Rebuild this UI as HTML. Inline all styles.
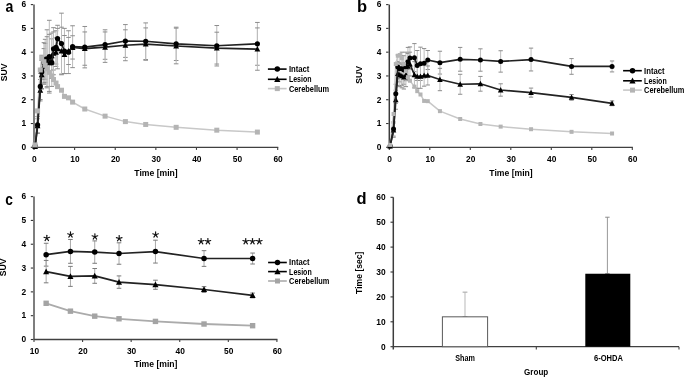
<!DOCTYPE html><html><head><meta charset="utf-8"><style>html,body{margin:0;padding:0;background:#fff;width:685px;height:377px;overflow:hidden}svg{display:block;will-change:transform}text{font-family:"Liberation Sans",sans-serif}</style></head><body>
<svg width="685" height="377" viewBox="0 0 685 377">
<rect width="685" height="377" fill="#fff"/>
<g>
<text x="9.30" y="12.00" font-size="16" text-anchor="middle" font-weight="bold" fill="#000" transform="translate(9.3 0) scale(0.88 1) translate(-9.3 0)">a</text>
<line x1="34.00" y1="4.60" x2="34.00" y2="147.30" stroke="#707070" stroke-width="1.8"/>
<line x1="30.80" y1="147.30" x2="33.10" y2="147.30" stroke="#333" stroke-width="1.1"/>
<text x="26.20" y="150.10" font-size="8.4" text-anchor="end" font-weight="bold" fill="#000" >0</text>
<line x1="30.80" y1="123.52" x2="33.10" y2="123.52" stroke="#333" stroke-width="1.1"/>
<text x="26.20" y="126.32" font-size="8.4" text-anchor="end" font-weight="bold" fill="#000" >1</text>
<line x1="30.80" y1="99.73" x2="33.10" y2="99.73" stroke="#333" stroke-width="1.1"/>
<text x="26.20" y="102.53" font-size="8.4" text-anchor="end" font-weight="bold" fill="#000" >2</text>
<line x1="30.80" y1="75.95" x2="33.10" y2="75.95" stroke="#333" stroke-width="1.1"/>
<text x="26.20" y="78.75" font-size="8.4" text-anchor="end" font-weight="bold" fill="#000" >3</text>
<line x1="30.80" y1="52.17" x2="33.10" y2="52.17" stroke="#333" stroke-width="1.1"/>
<text x="26.20" y="54.97" font-size="8.4" text-anchor="end" font-weight="bold" fill="#000" >4</text>
<line x1="30.80" y1="28.38" x2="33.10" y2="28.38" stroke="#333" stroke-width="1.1"/>
<text x="26.20" y="31.18" font-size="8.4" text-anchor="end" font-weight="bold" fill="#000" >5</text>
<line x1="30.80" y1="4.60" x2="33.10" y2="4.60" stroke="#333" stroke-width="1.1"/>
<text x="26.20" y="7.40" font-size="8.4" text-anchor="end" font-weight="bold" fill="#000" >6</text>
<line x1="33.40" y1="147.30" x2="278.25" y2="147.30" stroke="#404040" stroke-width="1.3"/>
<line x1="34.00" y1="147.30" x2="34.00" y2="149.90" stroke="#404040" stroke-width="1.1"/>
<text x="34.40" y="161.80" font-size="8.4" text-anchor="middle" font-weight="bold" fill="#000" >0</text>
<line x1="74.62" y1="147.30" x2="74.62" y2="149.90" stroke="#404040" stroke-width="1.1"/>
<text x="75.02" y="161.80" font-size="8.4" text-anchor="middle" font-weight="bold" fill="#000" >10</text>
<line x1="115.23" y1="147.30" x2="115.23" y2="149.90" stroke="#404040" stroke-width="1.1"/>
<text x="115.63" y="161.80" font-size="8.4" text-anchor="middle" font-weight="bold" fill="#000" >20</text>
<line x1="155.85" y1="147.30" x2="155.85" y2="149.90" stroke="#404040" stroke-width="1.1"/>
<text x="156.25" y="161.80" font-size="8.4" text-anchor="middle" font-weight="bold" fill="#000" >30</text>
<line x1="196.47" y1="147.30" x2="196.47" y2="149.90" stroke="#404040" stroke-width="1.1"/>
<text x="196.87" y="161.80" font-size="8.4" text-anchor="middle" font-weight="bold" fill="#000" >40</text>
<line x1="237.08" y1="147.30" x2="237.08" y2="149.90" stroke="#404040" stroke-width="1.1"/>
<text x="237.48" y="161.80" font-size="8.4" text-anchor="middle" font-weight="bold" fill="#000" >50</text>
<line x1="277.70" y1="147.30" x2="277.70" y2="149.90" stroke="#404040" stroke-width="1.1"/>
<text x="278.10" y="161.80" font-size="8.4" text-anchor="middle" font-weight="bold" fill="#000" >60</text>
<line x1="35.14" y1="144.92" x2="35.14" y2="147.30" stroke="#bcbcbc" stroke-width="1"/>
<line x1="32.84" y1="144.92" x2="37.44" y2="144.92" stroke="#8c8c8c" stroke-width="1"/>
<line x1="32.84" y1="147.30" x2="37.44" y2="147.30" stroke="#8c8c8c" stroke-width="1"/>
<line x1="35.14" y1="145.40" x2="35.14" y2="147.78" stroke="#bcbcbc" stroke-width="1"/>
<line x1="32.84" y1="145.40" x2="37.44" y2="145.40" stroke="#8c8c8c" stroke-width="1"/>
<line x1="32.84" y1="147.78" x2="37.44" y2="147.78" stroke="#8c8c8c" stroke-width="1"/>
<line x1="37.57" y1="116.62" x2="37.57" y2="133.27" stroke="#bcbcbc" stroke-width="1"/>
<line x1="35.27" y1="116.62" x2="39.87" y2="116.62" stroke="#8c8c8c" stroke-width="1"/>
<line x1="35.27" y1="133.27" x2="39.87" y2="133.27" stroke="#8c8c8c" stroke-width="1"/>
<line x1="37.57" y1="118.76" x2="37.57" y2="133.03" stroke="#bcbcbc" stroke-width="1"/>
<line x1="35.27" y1="118.76" x2="39.87" y2="118.76" stroke="#8c8c8c" stroke-width="1"/>
<line x1="35.27" y1="133.03" x2="39.87" y2="133.03" stroke="#8c8c8c" stroke-width="1"/>
<line x1="40.30" y1="73.33" x2="40.30" y2="99.50" stroke="#bcbcbc" stroke-width="1"/>
<line x1="38.00" y1="73.33" x2="42.60" y2="73.33" stroke="#8c8c8c" stroke-width="1"/>
<line x1="38.00" y1="99.50" x2="42.60" y2="99.50" stroke="#8c8c8c" stroke-width="1"/>
<line x1="40.30" y1="79.52" x2="40.30" y2="100.92" stroke="#bcbcbc" stroke-width="1"/>
<line x1="38.00" y1="79.52" x2="42.60" y2="79.52" stroke="#8c8c8c" stroke-width="1"/>
<line x1="38.00" y1="100.92" x2="42.60" y2="100.92" stroke="#8c8c8c" stroke-width="1"/>
<line x1="41.72" y1="55.26" x2="41.72" y2="88.56" stroke="#bcbcbc" stroke-width="1"/>
<line x1="39.42" y1="55.26" x2="44.02" y2="55.26" stroke="#8c8c8c" stroke-width="1"/>
<line x1="39.42" y1="88.56" x2="44.02" y2="88.56" stroke="#8c8c8c" stroke-width="1"/>
<line x1="41.72" y1="60.49" x2="41.72" y2="89.03" stroke="#bcbcbc" stroke-width="1"/>
<line x1="39.42" y1="60.49" x2="44.02" y2="60.49" stroke="#8c8c8c" stroke-width="1"/>
<line x1="39.42" y1="89.03" x2="44.02" y2="89.03" stroke="#8c8c8c" stroke-width="1"/>
<line x1="43.95" y1="42.65" x2="43.95" y2="83.09" stroke="#bcbcbc" stroke-width="1"/>
<line x1="41.65" y1="42.65" x2="46.25" y2="42.65" stroke="#8c8c8c" stroke-width="1"/>
<line x1="41.65" y1="83.09" x2="46.25" y2="83.09" stroke="#8c8c8c" stroke-width="1"/>
<line x1="43.95" y1="48.60" x2="43.95" y2="84.27" stroke="#bcbcbc" stroke-width="1"/>
<line x1="41.65" y1="48.60" x2="46.25" y2="48.60" stroke="#8c8c8c" stroke-width="1"/>
<line x1="41.65" y1="84.27" x2="46.25" y2="84.27" stroke="#8c8c8c" stroke-width="1"/>
<line x1="45.17" y1="39.32" x2="45.17" y2="79.28" stroke="#bcbcbc" stroke-width="1"/>
<line x1="42.87" y1="39.32" x2="47.47" y2="39.32" stroke="#8c8c8c" stroke-width="1"/>
<line x1="42.87" y1="79.28" x2="47.47" y2="79.28" stroke="#8c8c8c" stroke-width="1"/>
<line x1="45.17" y1="43.37" x2="45.17" y2="82.37" stroke="#bcbcbc" stroke-width="1"/>
<line x1="42.87" y1="43.37" x2="47.47" y2="43.37" stroke="#8c8c8c" stroke-width="1"/>
<line x1="42.87" y1="82.37" x2="47.47" y2="82.37" stroke="#8c8c8c" stroke-width="1"/>
<line x1="47.00" y1="29.81" x2="47.00" y2="87.84" stroke="#bcbcbc" stroke-width="1"/>
<line x1="44.70" y1="29.81" x2="49.30" y2="29.81" stroke="#8c8c8c" stroke-width="1"/>
<line x1="44.70" y1="87.84" x2="49.30" y2="87.84" stroke="#8c8c8c" stroke-width="1"/>
<line x1="47.00" y1="36.71" x2="47.00" y2="86.65" stroke="#bcbcbc" stroke-width="1"/>
<line x1="44.70" y1="36.71" x2="49.30" y2="36.71" stroke="#8c8c8c" stroke-width="1"/>
<line x1="44.70" y1="86.65" x2="49.30" y2="86.65" stroke="#8c8c8c" stroke-width="1"/>
<line x1="49.31" y1="20.30" x2="49.31" y2="93.07" stroke="#bcbcbc" stroke-width="1"/>
<line x1="47.01" y1="20.30" x2="51.61" y2="20.30" stroke="#8c8c8c" stroke-width="1"/>
<line x1="47.01" y1="93.07" x2="51.61" y2="93.07" stroke="#8c8c8c" stroke-width="1"/>
<line x1="49.31" y1="34.33" x2="49.31" y2="91.41" stroke="#bcbcbc" stroke-width="1"/>
<line x1="47.01" y1="34.33" x2="51.61" y2="34.33" stroke="#8c8c8c" stroke-width="1"/>
<line x1="47.01" y1="91.41" x2="51.61" y2="91.41" stroke="#8c8c8c" stroke-width="1"/>
<line x1="51.79" y1="38.85" x2="51.79" y2="86.41" stroke="#bcbcbc" stroke-width="1"/>
<line x1="49.49" y1="38.85" x2="54.09" y2="38.85" stroke="#8c8c8c" stroke-width="1"/>
<line x1="49.49" y1="86.41" x2="54.09" y2="86.41" stroke="#8c8c8c" stroke-width="1"/>
<line x1="51.79" y1="33.14" x2="51.79" y2="78.33" stroke="#bcbcbc" stroke-width="1"/>
<line x1="49.49" y1="33.14" x2="54.09" y2="33.14" stroke="#8c8c8c" stroke-width="1"/>
<line x1="49.49" y1="78.33" x2="54.09" y2="78.33" stroke="#8c8c8c" stroke-width="1"/>
<line x1="53.50" y1="27.67" x2="53.50" y2="70.00" stroke="#bcbcbc" stroke-width="1"/>
<line x1="51.20" y1="27.67" x2="55.80" y2="27.67" stroke="#8c8c8c" stroke-width="1"/>
<line x1="51.20" y1="70.00" x2="55.80" y2="70.00" stroke="#8c8c8c" stroke-width="1"/>
<line x1="53.50" y1="31.95" x2="53.50" y2="74.76" stroke="#bcbcbc" stroke-width="1"/>
<line x1="51.20" y1="31.95" x2="55.80" y2="31.95" stroke="#8c8c8c" stroke-width="1"/>
<line x1="51.20" y1="74.76" x2="55.80" y2="74.76" stroke="#8c8c8c" stroke-width="1"/>
<line x1="56.01" y1="30.76" x2="56.01" y2="64.06" stroke="#bcbcbc" stroke-width="1"/>
<line x1="53.71" y1="30.76" x2="58.31" y2="30.76" stroke="#8c8c8c" stroke-width="1"/>
<line x1="53.71" y1="64.06" x2="58.31" y2="64.06" stroke="#8c8c8c" stroke-width="1"/>
<line x1="56.01" y1="37.90" x2="56.01" y2="66.44" stroke="#bcbcbc" stroke-width="1"/>
<line x1="53.71" y1="37.90" x2="58.31" y2="37.90" stroke="#8c8c8c" stroke-width="1"/>
<line x1="53.71" y1="66.44" x2="58.31" y2="66.44" stroke="#8c8c8c" stroke-width="1"/>
<line x1="57.56" y1="25.29" x2="57.56" y2="51.93" stroke="#bcbcbc" stroke-width="1"/>
<line x1="55.26" y1="25.29" x2="59.86" y2="25.29" stroke="#8c8c8c" stroke-width="1"/>
<line x1="55.26" y1="51.93" x2="59.86" y2="51.93" stroke="#8c8c8c" stroke-width="1"/>
<line x1="57.56" y1="28.38" x2="57.56" y2="68.81" stroke="#bcbcbc" stroke-width="1"/>
<line x1="55.26" y1="28.38" x2="59.86" y2="28.38" stroke="#8c8c8c" stroke-width="1"/>
<line x1="55.26" y1="68.81" x2="59.86" y2="68.81" stroke="#8c8c8c" stroke-width="1"/>
<line x1="61.50" y1="13.16" x2="61.50" y2="74.05" stroke="#bcbcbc" stroke-width="1"/>
<line x1="59.20" y1="13.16" x2="63.80" y2="13.16" stroke="#8c8c8c" stroke-width="1"/>
<line x1="59.20" y1="74.05" x2="63.80" y2="74.05" stroke="#8c8c8c" stroke-width="1"/>
<line x1="61.50" y1="27.19" x2="61.50" y2="74.76" stroke="#bcbcbc" stroke-width="1"/>
<line x1="59.20" y1="27.19" x2="63.80" y2="27.19" stroke="#8c8c8c" stroke-width="1"/>
<line x1="59.20" y1="74.76" x2="63.80" y2="74.76" stroke="#8c8c8c" stroke-width="1"/>
<line x1="64.46" y1="28.38" x2="64.46" y2="73.57" stroke="#bcbcbc" stroke-width="1"/>
<line x1="62.16" y1="28.38" x2="66.76" y2="28.38" stroke="#8c8c8c" stroke-width="1"/>
<line x1="62.16" y1="73.57" x2="66.76" y2="73.57" stroke="#8c8c8c" stroke-width="1"/>
<line x1="64.46" y1="35.52" x2="64.46" y2="73.57" stroke="#bcbcbc" stroke-width="1"/>
<line x1="62.16" y1="35.52" x2="66.76" y2="35.52" stroke="#8c8c8c" stroke-width="1"/>
<line x1="62.16" y1="73.57" x2="66.76" y2="73.57" stroke="#8c8c8c" stroke-width="1"/>
<line x1="68.52" y1="30.76" x2="68.52" y2="73.57" stroke="#bcbcbc" stroke-width="1"/>
<line x1="66.22" y1="30.76" x2="70.82" y2="30.76" stroke="#8c8c8c" stroke-width="1"/>
<line x1="66.22" y1="73.57" x2="70.82" y2="73.57" stroke="#8c8c8c" stroke-width="1"/>
<line x1="68.52" y1="37.42" x2="68.52" y2="64.53" stroke="#bcbcbc" stroke-width="1"/>
<line x1="66.22" y1="37.42" x2="70.82" y2="37.42" stroke="#8c8c8c" stroke-width="1"/>
<line x1="66.22" y1="64.53" x2="70.82" y2="64.53" stroke="#8c8c8c" stroke-width="1"/>
<line x1="72.59" y1="25.77" x2="72.59" y2="67.63" stroke="#bcbcbc" stroke-width="1"/>
<line x1="70.29" y1="25.77" x2="74.89" y2="25.77" stroke="#8c8c8c" stroke-width="1"/>
<line x1="70.29" y1="67.63" x2="74.89" y2="67.63" stroke="#8c8c8c" stroke-width="1"/>
<line x1="72.59" y1="35.76" x2="72.59" y2="59.06" stroke="#bcbcbc" stroke-width="1"/>
<line x1="70.29" y1="35.76" x2="74.89" y2="35.76" stroke="#8c8c8c" stroke-width="1"/>
<line x1="70.29" y1="59.06" x2="74.89" y2="59.06" stroke="#8c8c8c" stroke-width="1"/>
<line x1="84.77" y1="26.48" x2="84.77" y2="67.86" stroke="#bcbcbc" stroke-width="1"/>
<line x1="82.47" y1="26.48" x2="87.07" y2="26.48" stroke="#8c8c8c" stroke-width="1"/>
<line x1="82.47" y1="67.86" x2="87.07" y2="67.86" stroke="#8c8c8c" stroke-width="1"/>
<line x1="84.77" y1="31.95" x2="84.77" y2="65.25" stroke="#bcbcbc" stroke-width="1"/>
<line x1="82.47" y1="31.95" x2="87.07" y2="31.95" stroke="#8c8c8c" stroke-width="1"/>
<line x1="82.47" y1="65.25" x2="87.07" y2="65.25" stroke="#8c8c8c" stroke-width="1"/>
<line x1="105.08" y1="29.81" x2="105.08" y2="59.30" stroke="#bcbcbc" stroke-width="1"/>
<line x1="102.78" y1="29.81" x2="107.38" y2="29.81" stroke="#8c8c8c" stroke-width="1"/>
<line x1="102.78" y1="59.30" x2="107.38" y2="59.30" stroke="#8c8c8c" stroke-width="1"/>
<line x1="105.08" y1="31.95" x2="105.08" y2="62.39" stroke="#bcbcbc" stroke-width="1"/>
<line x1="102.78" y1="31.95" x2="107.38" y2="31.95" stroke="#8c8c8c" stroke-width="1"/>
<line x1="102.78" y1="62.39" x2="107.38" y2="62.39" stroke="#8c8c8c" stroke-width="1"/>
<line x1="125.39" y1="24.58" x2="125.39" y2="57.40" stroke="#bcbcbc" stroke-width="1"/>
<line x1="123.09" y1="24.58" x2="127.69" y2="24.58" stroke="#8c8c8c" stroke-width="1"/>
<line x1="123.09" y1="57.40" x2="127.69" y2="57.40" stroke="#8c8c8c" stroke-width="1"/>
<line x1="125.39" y1="29.81" x2="125.39" y2="60.73" stroke="#bcbcbc" stroke-width="1"/>
<line x1="123.09" y1="29.81" x2="127.69" y2="29.81" stroke="#8c8c8c" stroke-width="1"/>
<line x1="123.09" y1="60.73" x2="127.69" y2="60.73" stroke="#8c8c8c" stroke-width="1"/>
<line x1="145.70" y1="22.91" x2="145.70" y2="59.54" stroke="#bcbcbc" stroke-width="1"/>
<line x1="143.40" y1="22.91" x2="148.00" y2="22.91" stroke="#8c8c8c" stroke-width="1"/>
<line x1="143.40" y1="59.54" x2="148.00" y2="59.54" stroke="#8c8c8c" stroke-width="1"/>
<line x1="145.70" y1="27.91" x2="145.70" y2="60.25" stroke="#bcbcbc" stroke-width="1"/>
<line x1="143.40" y1="27.91" x2="148.00" y2="27.91" stroke="#8c8c8c" stroke-width="1"/>
<line x1="143.40" y1="60.25" x2="148.00" y2="60.25" stroke="#8c8c8c" stroke-width="1"/>
<line x1="176.16" y1="27.19" x2="176.16" y2="60.49" stroke="#bcbcbc" stroke-width="1"/>
<line x1="173.86" y1="27.19" x2="178.46" y2="27.19" stroke="#8c8c8c" stroke-width="1"/>
<line x1="173.86" y1="60.49" x2="178.46" y2="60.49" stroke="#8c8c8c" stroke-width="1"/>
<line x1="176.16" y1="28.15" x2="176.16" y2="63.82" stroke="#bcbcbc" stroke-width="1"/>
<line x1="173.86" y1="28.15" x2="178.46" y2="28.15" stroke="#8c8c8c" stroke-width="1"/>
<line x1="173.86" y1="63.82" x2="178.46" y2="63.82" stroke="#8c8c8c" stroke-width="1"/>
<line x1="216.78" y1="25.53" x2="216.78" y2="65.96" stroke="#bcbcbc" stroke-width="1"/>
<line x1="214.47" y1="25.53" x2="219.08" y2="25.53" stroke="#8c8c8c" stroke-width="1"/>
<line x1="214.47" y1="65.96" x2="219.08" y2="65.96" stroke="#8c8c8c" stroke-width="1"/>
<line x1="216.78" y1="32.19" x2="216.78" y2="64.06" stroke="#bcbcbc" stroke-width="1"/>
<line x1="214.47" y1="32.19" x2="219.08" y2="32.19" stroke="#8c8c8c" stroke-width="1"/>
<line x1="214.47" y1="64.06" x2="219.08" y2="64.06" stroke="#8c8c8c" stroke-width="1"/>
<line x1="257.39" y1="22.44" x2="257.39" y2="65.25" stroke="#bcbcbc" stroke-width="1"/>
<line x1="255.09" y1="22.44" x2="259.69" y2="22.44" stroke="#8c8c8c" stroke-width="1"/>
<line x1="255.09" y1="65.25" x2="259.69" y2="65.25" stroke="#8c8c8c" stroke-width="1"/>
<line x1="257.39" y1="27.91" x2="257.39" y2="70.24" stroke="#bcbcbc" stroke-width="1"/>
<line x1="255.09" y1="27.91" x2="259.69" y2="27.91" stroke="#8c8c8c" stroke-width="1"/>
<line x1="255.09" y1="70.24" x2="259.69" y2="70.24" stroke="#8c8c8c" stroke-width="1"/>
<polyline points="35.14,144.92 37.57,110.91 40.30,70.00 41.72,58.11 43.95,61.68 45.17,65.25 47.00,68.82 49.31,72.38 51.79,75.95 53.50,79.52 56.01,83.08 57.56,86.65 61.50,90.22 64.46,96.40 68.52,97.83 72.59,102.11 84.77,109.01 105.08,116.14 125.39,121.61 145.70,124.47 176.16,127.32 216.78,130.18 257.39,132.08" fill="none" stroke="#c8c8c8" stroke-width="1.5" stroke-linejoin="round"/>
<polyline points="35.14,146.59 37.57,125.90 40.30,90.22 41.72,74.76 43.95,66.44 45.17,62.87 47.00,61.68 49.31,62.87 51.79,55.73 53.50,53.36 56.01,52.17 57.56,48.60 61.50,50.98 64.46,54.55 68.52,50.98 72.59,47.41 84.77,48.60 105.08,47.17 125.39,45.27 145.70,44.08 176.16,45.98 216.78,48.12 257.39,49.07" fill="none" stroke="#222" stroke-width="1.7" stroke-linejoin="round"/>
<polygon points="32.24,149.07 38.04,149.07 35.14,143.56" fill="#000"/>
<polygon points="34.67,128.37 40.47,128.37 37.57,122.86" fill="#000"/>
<polygon points="37.40,92.70 43.20,92.70 40.30,87.19" fill="#000"/>
<polygon points="38.82,77.24 44.62,77.24 41.72,71.73" fill="#000"/>
<polygon points="41.05,68.92 46.85,68.92 43.95,63.41" fill="#000"/>
<polygon points="42.27,65.35 48.07,65.35 45.17,59.84" fill="#000"/>
<polygon points="44.10,64.16 49.90,64.16 47.00,58.65" fill="#000"/>
<polygon points="46.41,65.35 52.21,65.35 49.31,59.84" fill="#000"/>
<polygon points="48.89,58.21 54.69,58.21 51.79,52.70" fill="#000"/>
<polygon points="50.60,55.84 56.40,55.84 53.50,50.33" fill="#000"/>
<polygon points="53.11,54.65 58.91,54.65 56.01,49.14" fill="#000"/>
<polygon points="54.66,51.08 60.46,51.08 57.56,45.57" fill="#000"/>
<polygon points="58.60,53.46 64.40,53.46 61.50,47.95" fill="#000"/>
<polygon points="61.56,57.02 67.36,57.02 64.46,51.51" fill="#000"/>
<polygon points="65.62,53.46 71.42,53.46 68.52,47.95" fill="#000"/>
<polygon points="69.69,49.89 75.49,49.89 72.59,44.38" fill="#000"/>
<polygon points="81.87,51.08 87.67,51.08 84.77,45.57" fill="#000"/>
<polygon points="102.18,49.65 107.98,49.65 105.08,44.14" fill="#000"/>
<polygon points="122.49,47.75 128.29,47.75 125.39,42.24" fill="#000"/>
<polygon points="142.80,46.56 148.60,46.56 145.70,41.05" fill="#000"/>
<polygon points="173.26,48.46 179.06,48.46 176.16,42.95" fill="#000"/>
<polygon points="213.88,50.60 219.68,50.60 216.78,45.09" fill="#000"/>
<polygon points="254.49,51.55 260.29,51.55 257.39,46.04" fill="#000"/>
<polyline points="35.14,146.11 37.57,124.94 40.30,86.41 41.72,71.91 43.95,62.87 45.17,59.30 47.00,58.83 49.31,56.69 51.79,62.63 53.50,48.84 56.01,47.41 57.56,38.61 61.50,43.60 64.46,50.98 68.52,52.17 72.59,46.70 84.77,47.17 105.08,44.56 125.39,40.99 145.70,41.23 176.16,43.84 216.78,45.75 257.39,43.84" fill="none" stroke="#222" stroke-width="1.7" stroke-linejoin="round"/>
<circle cx="35.14" cy="146.11" r="2.6" fill="#000"/>
<circle cx="37.57" cy="124.94" r="2.6" fill="#000"/>
<circle cx="40.30" cy="86.41" r="2.6" fill="#000"/>
<circle cx="41.72" cy="71.91" r="2.6" fill="#000"/>
<circle cx="43.95" cy="62.87" r="2.6" fill="#000"/>
<circle cx="45.17" cy="59.30" r="2.6" fill="#000"/>
<circle cx="47.00" cy="58.83" r="2.6" fill="#000"/>
<circle cx="49.31" cy="56.69" r="2.6" fill="#000"/>
<circle cx="51.79" cy="62.63" r="2.6" fill="#000"/>
<circle cx="53.50" cy="48.84" r="2.6" fill="#000"/>
<circle cx="56.01" cy="47.41" r="2.6" fill="#000"/>
<circle cx="57.56" cy="38.61" r="2.6" fill="#000"/>
<circle cx="61.50" cy="43.60" r="2.6" fill="#000"/>
<circle cx="64.46" cy="50.98" r="2.6" fill="#000"/>
<circle cx="68.52" cy="52.17" r="2.6" fill="#000"/>
<circle cx="72.59" cy="46.70" r="2.6" fill="#000"/>
<circle cx="84.77" cy="47.17" r="2.6" fill="#000"/>
<circle cx="105.08" cy="44.56" r="2.6" fill="#000"/>
<circle cx="125.39" cy="40.99" r="2.6" fill="#000"/>
<circle cx="145.70" cy="41.23" r="2.6" fill="#000"/>
<circle cx="176.16" cy="43.84" r="2.6" fill="#000"/>
<circle cx="216.78" cy="45.75" r="2.6" fill="#000"/>
<circle cx="257.39" cy="43.84" r="2.6" fill="#000"/>
<rect x="32.64" y="142.42" width="5.0" height="5.0" fill="#b4b4b4"/>
<rect x="35.07" y="108.41" width="5.0" height="5.0" fill="#b4b4b4"/>
<rect x="37.80" y="67.50" width="5.0" height="5.0" fill="#b4b4b4"/>
<rect x="39.22" y="55.61" width="5.0" height="5.0" fill="#b4b4b4"/>
<rect x="41.45" y="59.18" width="5.0" height="5.0" fill="#b4b4b4"/>
<rect x="42.67" y="62.75" width="5.0" height="5.0" fill="#b4b4b4"/>
<rect x="44.50" y="66.32" width="5.0" height="5.0" fill="#b4b4b4"/>
<rect x="46.81" y="69.88" width="5.0" height="5.0" fill="#b4b4b4"/>
<rect x="49.29" y="73.45" width="5.0" height="5.0" fill="#b4b4b4"/>
<rect x="51.00" y="77.02" width="5.0" height="5.0" fill="#b4b4b4"/>
<rect x="53.51" y="80.58" width="5.0" height="5.0" fill="#b4b4b4"/>
<rect x="55.06" y="84.15" width="5.0" height="5.0" fill="#b4b4b4"/>
<rect x="59.00" y="87.72" width="5.0" height="5.0" fill="#b4b4b4"/>
<rect x="61.96" y="93.90" width="5.0" height="5.0" fill="#b4b4b4"/>
<rect x="66.02" y="95.33" width="5.0" height="5.0" fill="#b4b4b4"/>
<rect x="70.09" y="99.61" width="5.0" height="5.0" fill="#b4b4b4"/>
<rect x="82.27" y="106.51" width="5.0" height="5.0" fill="#b4b4b4"/>
<rect x="102.58" y="113.64" width="5.0" height="5.0" fill="#b4b4b4"/>
<rect x="122.89" y="119.11" width="5.0" height="5.0" fill="#b4b4b4"/>
<rect x="143.20" y="121.97" width="5.0" height="5.0" fill="#b4b4b4"/>
<rect x="173.66" y="124.82" width="5.0" height="5.0" fill="#b4b4b4"/>
<rect x="214.28" y="127.68" width="5.0" height="5.0" fill="#b4b4b4"/>
<rect x="254.89" y="129.58" width="5.0" height="5.0" fill="#b4b4b4"/>
<text x="7.30" y="72.40" font-size="8.6" text-anchor="middle" font-weight="bold" fill="#000" transform="rotate(-90 7.30 72.40)">SUV</text>
<text x="156.00" y="175.90" font-size="8.6" text-anchor="middle" font-weight="bold" fill="#000" >Time [min]</text>
<line x1="267.90" y1="69.10" x2="286.60" y2="69.10" stroke="#000" stroke-width="1.6"/>
<circle cx="277.30" cy="69.10" r="2.75" fill="#000"/>
<text x="288.90" y="72.00" font-size="8.5" text-anchor="start" font-weight="bold" fill="#000"  textLength="20.5" lengthAdjust="spacingAndGlyphs">Intact</text>
<line x1="267.90" y1="79.30" x2="286.60" y2="79.30" stroke="#000" stroke-width="1.6"/>
<polygon points="274.20,81.95 280.40,81.95 277.30,76.06" fill="#000"/>
<text x="288.90" y="82.20" font-size="8.5" text-anchor="start" font-weight="bold" fill="#000"  textLength="22.6" lengthAdjust="spacingAndGlyphs">Lesion</text>
<line x1="267.90" y1="88.60" x2="286.60" y2="88.60" stroke="#c8c8c8" stroke-width="1.6"/>
<rect x="274.80" y="86.10" width="5.0" height="5.0" fill="#b4b4b4"/>
<text x="288.90" y="91.50" font-size="8.5" text-anchor="start" font-weight="bold" fill="#000"  textLength="40.3" lengthAdjust="spacingAndGlyphs">Cerebellum</text>
<text x="362.00" y="12.00" font-size="16.5" text-anchor="middle" font-weight="bold" fill="#000" >b</text>
<line x1="389.30" y1="4.60" x2="389.30" y2="147.30" stroke="#3c3c3c" stroke-width="1.5"/>
<line x1="386.10" y1="147.30" x2="388.55" y2="147.30" stroke="#333" stroke-width="1.1"/>
<text x="381.50" y="150.10" font-size="8.4" text-anchor="end" font-weight="bold" fill="#000" >0</text>
<line x1="386.10" y1="123.52" x2="388.55" y2="123.52" stroke="#333" stroke-width="1.1"/>
<text x="381.50" y="126.32" font-size="8.4" text-anchor="end" font-weight="bold" fill="#000" >1</text>
<line x1="386.10" y1="99.73" x2="388.55" y2="99.73" stroke="#333" stroke-width="1.1"/>
<text x="381.50" y="102.53" font-size="8.4" text-anchor="end" font-weight="bold" fill="#000" >2</text>
<line x1="386.10" y1="75.95" x2="388.55" y2="75.95" stroke="#333" stroke-width="1.1"/>
<text x="381.50" y="78.75" font-size="8.4" text-anchor="end" font-weight="bold" fill="#000" >3</text>
<line x1="386.10" y1="52.17" x2="388.55" y2="52.17" stroke="#333" stroke-width="1.1"/>
<text x="381.50" y="54.97" font-size="8.4" text-anchor="end" font-weight="bold" fill="#000" >4</text>
<line x1="386.10" y1="28.38" x2="388.55" y2="28.38" stroke="#333" stroke-width="1.1"/>
<text x="381.50" y="31.18" font-size="8.4" text-anchor="end" font-weight="bold" fill="#000" >5</text>
<line x1="386.10" y1="4.60" x2="388.55" y2="4.60" stroke="#333" stroke-width="1.1"/>
<text x="381.50" y="7.40" font-size="8.4" text-anchor="end" font-weight="bold" fill="#000" >6</text>
<line x1="388.70" y1="147.30" x2="632.85" y2="147.30" stroke="#404040" stroke-width="1.3"/>
<line x1="389.30" y1="147.30" x2="389.30" y2="149.90" stroke="#404040" stroke-width="1.1"/>
<text x="389.70" y="161.80" font-size="8.4" text-anchor="middle" font-weight="bold" fill="#000" >0</text>
<line x1="429.80" y1="147.30" x2="429.80" y2="149.90" stroke="#404040" stroke-width="1.1"/>
<text x="430.20" y="161.80" font-size="8.4" text-anchor="middle" font-weight="bold" fill="#000" >10</text>
<line x1="470.30" y1="147.30" x2="470.30" y2="149.90" stroke="#404040" stroke-width="1.1"/>
<text x="470.70" y="161.80" font-size="8.4" text-anchor="middle" font-weight="bold" fill="#000" >20</text>
<line x1="510.80" y1="147.30" x2="510.80" y2="149.90" stroke="#404040" stroke-width="1.1"/>
<text x="511.20" y="161.80" font-size="8.4" text-anchor="middle" font-weight="bold" fill="#000" >30</text>
<line x1="551.30" y1="147.30" x2="551.30" y2="149.90" stroke="#404040" stroke-width="1.1"/>
<text x="551.70" y="161.80" font-size="8.4" text-anchor="middle" font-weight="bold" fill="#000" >40</text>
<line x1="591.80" y1="147.30" x2="591.80" y2="149.90" stroke="#404040" stroke-width="1.1"/>
<text x="592.20" y="161.80" font-size="8.4" text-anchor="middle" font-weight="bold" fill="#000" >50</text>
<line x1="632.30" y1="147.30" x2="632.30" y2="149.90" stroke="#404040" stroke-width="1.1"/>
<text x="632.70" y="161.80" font-size="8.4" text-anchor="middle" font-weight="bold" fill="#000" >60</text>
<line x1="390.11" y1="144.92" x2="390.11" y2="147.30" stroke="#bcbcbc" stroke-width="1"/>
<line x1="387.96" y1="144.92" x2="392.26" y2="144.92" stroke="#8c8c8c" stroke-width="1"/>
<line x1="387.96" y1="147.30" x2="392.26" y2="147.30" stroke="#8c8c8c" stroke-width="1"/>
<line x1="390.11" y1="144.92" x2="390.11" y2="147.30" stroke="#bcbcbc" stroke-width="1"/>
<line x1="387.96" y1="144.92" x2="392.26" y2="144.92" stroke="#8c8c8c" stroke-width="1"/>
<line x1="387.96" y1="147.30" x2="392.26" y2="147.30" stroke="#8c8c8c" stroke-width="1"/>
<line x1="393.55" y1="121.85" x2="393.55" y2="136.12" stroke="#bcbcbc" stroke-width="1"/>
<line x1="391.40" y1="121.85" x2="395.70" y2="121.85" stroke="#8c8c8c" stroke-width="1"/>
<line x1="391.40" y1="136.12" x2="395.70" y2="136.12" stroke="#8c8c8c" stroke-width="1"/>
<line x1="393.55" y1="123.04" x2="393.55" y2="137.31" stroke="#bcbcbc" stroke-width="1"/>
<line x1="391.40" y1="123.04" x2="395.70" y2="123.04" stroke="#8c8c8c" stroke-width="1"/>
<line x1="391.40" y1="137.31" x2="395.70" y2="137.31" stroke="#8c8c8c" stroke-width="1"/>
<line x1="395.78" y1="84.27" x2="395.78" y2="103.30" stroke="#bcbcbc" stroke-width="1"/>
<line x1="393.63" y1="84.27" x2="397.93" y2="84.27" stroke="#8c8c8c" stroke-width="1"/>
<line x1="393.63" y1="103.30" x2="397.93" y2="103.30" stroke="#8c8c8c" stroke-width="1"/>
<line x1="395.78" y1="90.22" x2="395.78" y2="109.25" stroke="#bcbcbc" stroke-width="1"/>
<line x1="393.63" y1="90.22" x2="397.93" y2="90.22" stroke="#8c8c8c" stroke-width="1"/>
<line x1="393.63" y1="109.25" x2="397.93" y2="109.25" stroke="#8c8c8c" stroke-width="1"/>
<line x1="397.81" y1="55.02" x2="397.81" y2="78.80" stroke="#bcbcbc" stroke-width="1"/>
<line x1="395.66" y1="55.02" x2="399.95" y2="55.02" stroke="#8c8c8c" stroke-width="1"/>
<line x1="395.66" y1="78.80" x2="399.95" y2="78.80" stroke="#8c8c8c" stroke-width="1"/>
<line x1="397.81" y1="61.68" x2="397.81" y2="85.46" stroke="#bcbcbc" stroke-width="1"/>
<line x1="395.66" y1="61.68" x2="399.95" y2="61.68" stroke="#8c8c8c" stroke-width="1"/>
<line x1="395.66" y1="85.46" x2="399.95" y2="85.46" stroke="#8c8c8c" stroke-width="1"/>
<line x1="399.83" y1="55.73" x2="399.83" y2="81.90" stroke="#bcbcbc" stroke-width="1"/>
<line x1="397.68" y1="55.73" x2="401.98" y2="55.73" stroke="#8c8c8c" stroke-width="1"/>
<line x1="397.68" y1="81.90" x2="401.98" y2="81.90" stroke="#8c8c8c" stroke-width="1"/>
<line x1="399.83" y1="62.87" x2="399.83" y2="86.65" stroke="#bcbcbc" stroke-width="1"/>
<line x1="397.68" y1="62.87" x2="401.98" y2="62.87" stroke="#8c8c8c" stroke-width="1"/>
<line x1="397.68" y1="86.65" x2="401.98" y2="86.65" stroke="#8c8c8c" stroke-width="1"/>
<line x1="401.86" y1="52.17" x2="401.86" y2="85.46" stroke="#bcbcbc" stroke-width="1"/>
<line x1="399.71" y1="52.17" x2="404.00" y2="52.17" stroke="#8c8c8c" stroke-width="1"/>
<line x1="399.71" y1="85.46" x2="404.00" y2="85.46" stroke="#8c8c8c" stroke-width="1"/>
<line x1="401.86" y1="64.06" x2="401.86" y2="87.84" stroke="#bcbcbc" stroke-width="1"/>
<line x1="399.71" y1="64.06" x2="404.00" y2="64.06" stroke="#8c8c8c" stroke-width="1"/>
<line x1="399.71" y1="87.84" x2="404.00" y2="87.84" stroke="#8c8c8c" stroke-width="1"/>
<line x1="403.88" y1="55.73" x2="403.88" y2="84.27" stroke="#bcbcbc" stroke-width="1"/>
<line x1="401.73" y1="55.73" x2="406.03" y2="55.73" stroke="#8c8c8c" stroke-width="1"/>
<line x1="401.73" y1="84.27" x2="406.03" y2="84.27" stroke="#8c8c8c" stroke-width="1"/>
<line x1="403.88" y1="65.25" x2="403.88" y2="89.03" stroke="#bcbcbc" stroke-width="1"/>
<line x1="401.73" y1="65.25" x2="406.03" y2="65.25" stroke="#8c8c8c" stroke-width="1"/>
<line x1="401.73" y1="89.03" x2="406.03" y2="89.03" stroke="#8c8c8c" stroke-width="1"/>
<line x1="405.91" y1="52.17" x2="405.91" y2="80.71" stroke="#bcbcbc" stroke-width="1"/>
<line x1="403.76" y1="52.17" x2="408.06" y2="52.17" stroke="#8c8c8c" stroke-width="1"/>
<line x1="403.76" y1="80.71" x2="408.06" y2="80.71" stroke="#8c8c8c" stroke-width="1"/>
<line x1="405.91" y1="62.87" x2="405.91" y2="86.65" stroke="#bcbcbc" stroke-width="1"/>
<line x1="403.76" y1="62.87" x2="408.06" y2="62.87" stroke="#8c8c8c" stroke-width="1"/>
<line x1="403.76" y1="86.65" x2="408.06" y2="86.65" stroke="#8c8c8c" stroke-width="1"/>
<line x1="407.93" y1="47.41" x2="407.93" y2="75.95" stroke="#bcbcbc" stroke-width="1"/>
<line x1="405.78" y1="47.41" x2="410.08" y2="47.41" stroke="#8c8c8c" stroke-width="1"/>
<line x1="405.78" y1="75.95" x2="410.08" y2="75.95" stroke="#8c8c8c" stroke-width="1"/>
<line x1="407.93" y1="53.36" x2="407.93" y2="79.52" stroke="#bcbcbc" stroke-width="1"/>
<line x1="405.78" y1="53.36" x2="410.08" y2="53.36" stroke="#8c8c8c" stroke-width="1"/>
<line x1="405.78" y1="79.52" x2="410.08" y2="79.52" stroke="#8c8c8c" stroke-width="1"/>
<line x1="409.95" y1="46.93" x2="409.95" y2="69.29" stroke="#bcbcbc" stroke-width="1"/>
<line x1="407.81" y1="46.93" x2="412.10" y2="46.93" stroke="#8c8c8c" stroke-width="1"/>
<line x1="407.81" y1="69.29" x2="412.10" y2="69.29" stroke="#8c8c8c" stroke-width="1"/>
<line x1="409.95" y1="52.17" x2="409.95" y2="75.95" stroke="#bcbcbc" stroke-width="1"/>
<line x1="407.81" y1="52.17" x2="412.10" y2="52.17" stroke="#8c8c8c" stroke-width="1"/>
<line x1="407.81" y1="75.95" x2="412.10" y2="75.95" stroke="#8c8c8c" stroke-width="1"/>
<line x1="414.41" y1="43.60" x2="414.41" y2="71.67" stroke="#bcbcbc" stroke-width="1"/>
<line x1="412.26" y1="43.60" x2="416.56" y2="43.60" stroke="#8c8c8c" stroke-width="1"/>
<line x1="412.26" y1="71.67" x2="416.56" y2="71.67" stroke="#8c8c8c" stroke-width="1"/>
<line x1="414.41" y1="61.68" x2="414.41" y2="87.84" stroke="#bcbcbc" stroke-width="1"/>
<line x1="412.26" y1="61.68" x2="416.56" y2="61.68" stroke="#8c8c8c" stroke-width="1"/>
<line x1="412.26" y1="87.84" x2="416.56" y2="87.84" stroke="#8c8c8c" stroke-width="1"/>
<line x1="417.25" y1="50.50" x2="417.25" y2="80.47" stroke="#bcbcbc" stroke-width="1"/>
<line x1="415.10" y1="50.50" x2="419.39" y2="50.50" stroke="#8c8c8c" stroke-width="1"/>
<line x1="415.10" y1="80.47" x2="419.39" y2="80.47" stroke="#8c8c8c" stroke-width="1"/>
<line x1="417.25" y1="64.53" x2="417.25" y2="88.32" stroke="#bcbcbc" stroke-width="1"/>
<line x1="415.10" y1="64.53" x2="419.39" y2="64.53" stroke="#8c8c8c" stroke-width="1"/>
<line x1="415.10" y1="88.32" x2="419.39" y2="88.32" stroke="#8c8c8c" stroke-width="1"/>
<line x1="420.49" y1="47.17" x2="420.49" y2="80.47" stroke="#bcbcbc" stroke-width="1"/>
<line x1="418.34" y1="47.17" x2="422.63" y2="47.17" stroke="#8c8c8c" stroke-width="1"/>
<line x1="418.34" y1="80.47" x2="422.63" y2="80.47" stroke="#8c8c8c" stroke-width="1"/>
<line x1="420.49" y1="64.53" x2="420.49" y2="88.32" stroke="#bcbcbc" stroke-width="1"/>
<line x1="418.34" y1="64.53" x2="422.63" y2="64.53" stroke="#8c8c8c" stroke-width="1"/>
<line x1="418.34" y1="88.32" x2="422.63" y2="88.32" stroke="#8c8c8c" stroke-width="1"/>
<line x1="424.13" y1="48.60" x2="424.13" y2="78.09" stroke="#bcbcbc" stroke-width="1"/>
<line x1="421.98" y1="48.60" x2="426.28" y2="48.60" stroke="#8c8c8c" stroke-width="1"/>
<line x1="421.98" y1="78.09" x2="426.28" y2="78.09" stroke="#8c8c8c" stroke-width="1"/>
<line x1="424.13" y1="64.77" x2="424.13" y2="86.18" stroke="#bcbcbc" stroke-width="1"/>
<line x1="421.98" y1="64.77" x2="426.28" y2="64.77" stroke="#8c8c8c" stroke-width="1"/>
<line x1="421.98" y1="86.18" x2="426.28" y2="86.18" stroke="#8c8c8c" stroke-width="1"/>
<line x1="427.77" y1="50.50" x2="427.77" y2="69.53" stroke="#bcbcbc" stroke-width="1"/>
<line x1="425.62" y1="50.50" x2="429.92" y2="50.50" stroke="#8c8c8c" stroke-width="1"/>
<line x1="425.62" y1="69.53" x2="429.92" y2="69.53" stroke="#8c8c8c" stroke-width="1"/>
<line x1="427.77" y1="65.96" x2="427.77" y2="84.99" stroke="#bcbcbc" stroke-width="1"/>
<line x1="425.62" y1="65.96" x2="429.92" y2="65.96" stroke="#8c8c8c" stroke-width="1"/>
<line x1="425.62" y1="84.99" x2="429.92" y2="84.99" stroke="#8c8c8c" stroke-width="1"/>
<line x1="439.93" y1="51.22" x2="439.93" y2="74.05" stroke="#bcbcbc" stroke-width="1"/>
<line x1="437.78" y1="51.22" x2="442.07" y2="51.22" stroke="#8c8c8c" stroke-width="1"/>
<line x1="437.78" y1="74.05" x2="442.07" y2="74.05" stroke="#8c8c8c" stroke-width="1"/>
<line x1="439.93" y1="68.34" x2="439.93" y2="90.70" stroke="#bcbcbc" stroke-width="1"/>
<line x1="437.78" y1="68.34" x2="442.07" y2="68.34" stroke="#8c8c8c" stroke-width="1"/>
<line x1="437.78" y1="90.70" x2="442.07" y2="90.70" stroke="#8c8c8c" stroke-width="1"/>
<line x1="460.18" y1="47.41" x2="460.18" y2="71.19" stroke="#bcbcbc" stroke-width="1"/>
<line x1="458.03" y1="47.41" x2="462.32" y2="47.41" stroke="#8c8c8c" stroke-width="1"/>
<line x1="458.03" y1="71.19" x2="462.32" y2="71.19" stroke="#8c8c8c" stroke-width="1"/>
<line x1="460.18" y1="74.29" x2="460.18" y2="94.26" stroke="#bcbcbc" stroke-width="1"/>
<line x1="458.03" y1="74.29" x2="462.32" y2="74.29" stroke="#8c8c8c" stroke-width="1"/>
<line x1="458.03" y1="94.26" x2="462.32" y2="94.26" stroke="#8c8c8c" stroke-width="1"/>
<line x1="480.43" y1="48.84" x2="480.43" y2="71.19" stroke="#bcbcbc" stroke-width="1"/>
<line x1="478.28" y1="48.84" x2="482.57" y2="48.84" stroke="#8c8c8c" stroke-width="1"/>
<line x1="478.28" y1="71.19" x2="482.57" y2="71.19" stroke="#8c8c8c" stroke-width="1"/>
<line x1="480.43" y1="76.43" x2="480.43" y2="91.17" stroke="#bcbcbc" stroke-width="1"/>
<line x1="478.28" y1="76.43" x2="482.57" y2="76.43" stroke="#8c8c8c" stroke-width="1"/>
<line x1="478.28" y1="91.17" x2="482.57" y2="91.17" stroke="#8c8c8c" stroke-width="1"/>
<line x1="500.67" y1="50.74" x2="500.67" y2="72.14" stroke="#bcbcbc" stroke-width="1"/>
<line x1="498.52" y1="50.74" x2="502.82" y2="50.74" stroke="#8c8c8c" stroke-width="1"/>
<line x1="498.52" y1="72.14" x2="502.82" y2="72.14" stroke="#8c8c8c" stroke-width="1"/>
<line x1="500.67" y1="83.80" x2="500.67" y2="96.17" stroke="#bcbcbc" stroke-width="1"/>
<line x1="498.52" y1="83.80" x2="502.82" y2="83.80" stroke="#8c8c8c" stroke-width="1"/>
<line x1="498.52" y1="96.17" x2="502.82" y2="96.17" stroke="#8c8c8c" stroke-width="1"/>
<line x1="531.05" y1="48.12" x2="531.05" y2="70.96" stroke="#bcbcbc" stroke-width="1"/>
<line x1="528.90" y1="48.12" x2="533.20" y2="48.12" stroke="#8c8c8c" stroke-width="1"/>
<line x1="528.90" y1="70.96" x2="533.20" y2="70.96" stroke="#8c8c8c" stroke-width="1"/>
<line x1="531.05" y1="88.08" x2="531.05" y2="97.12" stroke="#bcbcbc" stroke-width="1"/>
<line x1="528.90" y1="88.08" x2="533.20" y2="88.08" stroke="#8c8c8c" stroke-width="1"/>
<line x1="528.90" y1="97.12" x2="533.20" y2="97.12" stroke="#8c8c8c" stroke-width="1"/>
<line x1="571.55" y1="58.59" x2="571.55" y2="74.29" stroke="#bcbcbc" stroke-width="1"/>
<line x1="569.40" y1="58.59" x2="573.70" y2="58.59" stroke="#8c8c8c" stroke-width="1"/>
<line x1="569.40" y1="74.29" x2="573.70" y2="74.29" stroke="#8c8c8c" stroke-width="1"/>
<line x1="571.55" y1="94.50" x2="571.55" y2="100.21" stroke="#bcbcbc" stroke-width="1"/>
<line x1="569.40" y1="94.50" x2="573.70" y2="94.50" stroke="#8c8c8c" stroke-width="1"/>
<line x1="569.40" y1="100.21" x2="573.70" y2="100.21" stroke="#8c8c8c" stroke-width="1"/>
<line x1="612.05" y1="60.97" x2="612.05" y2="71.91" stroke="#bcbcbc" stroke-width="1"/>
<line x1="609.90" y1="60.97" x2="614.20" y2="60.97" stroke="#8c8c8c" stroke-width="1"/>
<line x1="609.90" y1="71.91" x2="614.20" y2="71.91" stroke="#8c8c8c" stroke-width="1"/>
<line x1="612.05" y1="100.92" x2="612.05" y2="105.68" stroke="#bcbcbc" stroke-width="1"/>
<line x1="609.90" y1="100.92" x2="614.20" y2="100.92" stroke="#8c8c8c" stroke-width="1"/>
<line x1="609.90" y1="105.68" x2="614.20" y2="105.68" stroke="#8c8c8c" stroke-width="1"/>
<polyline points="390.11,144.92 393.55,114.00 395.78,64.06 397.81,55.73 399.83,55.02 401.86,58.11 403.88,64.06 405.91,71.19 407.93,77.14 409.95,80.71 414.41,86.65 417.25,91.17 420.49,94.50 424.13,100.92 427.77,101.16 439.93,111.15 460.18,119.00 480.43,123.99 500.67,126.61 531.05,129.22 571.55,131.84 612.05,133.51" fill="none" stroke="#c8c8c8" stroke-width="1.5" stroke-linejoin="round"/>
<polyline points="390.11,146.11 393.55,130.18 395.78,99.73 397.81,73.57 399.83,74.76 401.86,75.95 403.88,77.14 405.91,74.76 407.93,66.44 409.95,64.06 414.41,74.76 417.25,76.43 420.49,76.43 424.13,75.47 427.77,75.47 439.93,79.52 460.18,84.27 480.43,83.80 500.67,89.98 531.05,92.60 571.55,97.35 612.05,103.30" fill="none" stroke="#222" stroke-width="1.7" stroke-linejoin="round"/>
<polygon points="387.31,148.50 392.91,148.50 390.11,143.18" fill="#000"/>
<polygon points="390.75,132.57 396.35,132.57 393.55,127.25" fill="#000"/>
<polygon points="392.98,102.13 398.58,102.13 395.78,96.81" fill="#000"/>
<polygon points="395.00,75.97 400.61,75.97 397.81,70.65" fill="#000"/>
<polygon points="397.03,77.15 402.63,77.15 399.83,71.83" fill="#000"/>
<polygon points="399.06,78.34 404.66,78.34 401.86,73.02" fill="#000"/>
<polygon points="401.08,79.53 406.68,79.53 403.88,74.21" fill="#000"/>
<polygon points="403.11,77.15 408.71,77.15 405.91,71.83" fill="#000"/>
<polygon points="405.13,68.83 410.73,68.83 407.93,63.51" fill="#000"/>
<polygon points="407.15,66.45 412.75,66.45 409.95,61.13" fill="#000"/>
<polygon points="411.61,77.15 417.21,77.15 414.41,71.83" fill="#000"/>
<polygon points="414.44,78.82 420.05,78.82 417.25,73.50" fill="#000"/>
<polygon points="417.69,78.82 423.29,78.82 420.49,73.50" fill="#000"/>
<polygon points="421.33,77.87 426.93,77.87 424.13,72.55" fill="#000"/>
<polygon points="424.97,77.87 430.57,77.87 427.77,72.55" fill="#000"/>
<polygon points="437.12,81.91 442.73,81.91 439.93,76.59" fill="#000"/>
<polygon points="457.38,86.67 462.98,86.67 460.18,81.35" fill="#000"/>
<polygon points="477.62,86.19 483.23,86.19 480.43,80.87" fill="#000"/>
<polygon points="497.87,92.38 503.47,92.38 500.67,87.06" fill="#000"/>
<polygon points="528.25,94.99 533.85,94.99 531.05,89.67" fill="#000"/>
<polygon points="568.75,99.75 574.35,99.75 571.55,94.43" fill="#000"/>
<polygon points="609.25,105.69 614.85,105.69 612.05,100.37" fill="#000"/>
<polyline points="390.11,146.11 393.55,128.99 395.78,93.79 397.81,66.91 399.83,68.82 401.86,68.82 403.88,70.00 405.91,66.44 407.93,61.68 409.95,58.11 414.41,57.64 417.25,65.49 420.49,63.82 424.13,63.34 427.77,60.02 439.93,62.63 460.18,59.30 480.43,60.02 500.67,61.44 531.05,59.54 571.55,66.44 612.05,66.44" fill="none" stroke="#222" stroke-width="1.7" stroke-linejoin="round"/>
<circle cx="390.11" cy="146.11" r="2.5" fill="#000"/>
<circle cx="393.55" cy="128.99" r="2.5" fill="#000"/>
<circle cx="395.78" cy="93.79" r="2.5" fill="#000"/>
<circle cx="397.81" cy="66.91" r="2.5" fill="#000"/>
<circle cx="399.83" cy="68.82" r="2.5" fill="#000"/>
<circle cx="401.86" cy="68.82" r="2.5" fill="#000"/>
<circle cx="403.88" cy="70.00" r="2.5" fill="#000"/>
<circle cx="405.91" cy="66.44" r="2.5" fill="#000"/>
<circle cx="407.93" cy="61.68" r="2.5" fill="#000"/>
<circle cx="409.95" cy="58.11" r="2.5" fill="#000"/>
<circle cx="414.41" cy="57.64" r="2.5" fill="#000"/>
<circle cx="417.25" cy="65.49" r="2.5" fill="#000"/>
<circle cx="420.49" cy="63.82" r="2.5" fill="#000"/>
<circle cx="424.13" cy="63.34" r="2.5" fill="#000"/>
<circle cx="427.77" cy="60.02" r="2.5" fill="#000"/>
<circle cx="439.93" cy="62.63" r="2.5" fill="#000"/>
<circle cx="460.18" cy="59.30" r="2.5" fill="#000"/>
<circle cx="480.43" cy="60.02" r="2.5" fill="#000"/>
<circle cx="500.67" cy="61.44" r="2.5" fill="#000"/>
<circle cx="531.05" cy="59.54" r="2.5" fill="#000"/>
<circle cx="571.55" cy="66.44" r="2.5" fill="#000"/>
<circle cx="612.05" cy="66.44" r="2.5" fill="#000"/>
<rect x="388.11" y="142.92" width="4.0" height="4.0" fill="#b4b4b4"/>
<rect x="391.55" y="112.00" width="4.0" height="4.0" fill="#b4b4b4"/>
<rect x="393.78" y="62.06" width="4.0" height="4.0" fill="#b4b4b4"/>
<rect x="395.81" y="53.73" width="4.0" height="4.0" fill="#b4b4b4"/>
<rect x="397.83" y="53.02" width="4.0" height="4.0" fill="#b4b4b4"/>
<rect x="399.86" y="56.11" width="4.0" height="4.0" fill="#b4b4b4"/>
<rect x="401.88" y="62.06" width="4.0" height="4.0" fill="#b4b4b4"/>
<rect x="403.91" y="69.19" width="4.0" height="4.0" fill="#b4b4b4"/>
<rect x="405.93" y="75.14" width="4.0" height="4.0" fill="#b4b4b4"/>
<rect x="407.95" y="78.71" width="4.0" height="4.0" fill="#b4b4b4"/>
<rect x="412.41" y="84.65" width="4.0" height="4.0" fill="#b4b4b4"/>
<rect x="415.25" y="89.17" width="4.0" height="4.0" fill="#b4b4b4"/>
<rect x="418.49" y="92.50" width="4.0" height="4.0" fill="#b4b4b4"/>
<rect x="422.13" y="98.92" width="4.0" height="4.0" fill="#b4b4b4"/>
<rect x="425.77" y="99.16" width="4.0" height="4.0" fill="#b4b4b4"/>
<rect x="437.93" y="109.15" width="4.0" height="4.0" fill="#b4b4b4"/>
<rect x="458.18" y="117.00" width="4.0" height="4.0" fill="#b4b4b4"/>
<rect x="478.43" y="121.99" width="4.0" height="4.0" fill="#b4b4b4"/>
<rect x="498.67" y="124.61" width="4.0" height="4.0" fill="#b4b4b4"/>
<rect x="529.05" y="127.22" width="4.0" height="4.0" fill="#b4b4b4"/>
<rect x="569.55" y="129.84" width="4.0" height="4.0" fill="#b4b4b4"/>
<rect x="610.05" y="131.51" width="4.0" height="4.0" fill="#b4b4b4"/>
<text x="362.30" y="74.90" font-size="8.6" text-anchor="middle" font-weight="bold" fill="#000" transform="rotate(-90 362.30 74.90)">SUV</text>
<text x="511.00" y="176.10" font-size="8.6" text-anchor="middle" font-weight="bold" fill="#000" >Time [min]</text>
<line x1="623.10" y1="70.70" x2="641.80" y2="70.70" stroke="#000" stroke-width="1.6"/>
<circle cx="632.50" cy="70.70" r="2.75" fill="#000"/>
<text x="644.10" y="73.60" font-size="8.5" text-anchor="start" font-weight="bold" fill="#000"  textLength="20.5" lengthAdjust="spacingAndGlyphs">Intact</text>
<line x1="623.10" y1="80.80" x2="641.80" y2="80.80" stroke="#000" stroke-width="1.6"/>
<polygon points="629.40,83.45 635.60,83.45 632.50,77.56" fill="#000"/>
<text x="644.10" y="83.70" font-size="8.5" text-anchor="start" font-weight="bold" fill="#000"  textLength="22.6" lengthAdjust="spacingAndGlyphs">Lesion</text>
<line x1="623.10" y1="90.10" x2="641.80" y2="90.10" stroke="#c8c8c8" stroke-width="1.6"/>
<rect x="630.00" y="87.60" width="5.0" height="5.0" fill="#b4b4b4"/>
<text x="644.10" y="93.00" font-size="8.5" text-anchor="start" font-weight="bold" fill="#000"  textLength="40.3" lengthAdjust="spacingAndGlyphs">Cerebellum</text>
<text x="9.15" y="204.60" font-size="16" text-anchor="middle" font-weight="bold" fill="#000" transform="translate(9.15 0) scale(0.86 1) translate(-9.15 0)">c</text>
<line x1="34.00" y1="196.60" x2="34.00" y2="339.50" stroke="#707070" stroke-width="1.8"/>
<line x1="30.80" y1="339.50" x2="33.10" y2="339.50" stroke="#333" stroke-width="1.1"/>
<text x="26.20" y="342.30" font-size="8.4" text-anchor="end" font-weight="bold" fill="#000" >0</text>
<line x1="30.80" y1="315.68" x2="33.10" y2="315.68" stroke="#333" stroke-width="1.1"/>
<text x="26.20" y="318.48" font-size="8.4" text-anchor="end" font-weight="bold" fill="#000" >1</text>
<line x1="30.80" y1="291.87" x2="33.10" y2="291.87" stroke="#333" stroke-width="1.1"/>
<text x="26.20" y="294.67" font-size="8.4" text-anchor="end" font-weight="bold" fill="#000" >2</text>
<line x1="30.80" y1="268.05" x2="33.10" y2="268.05" stroke="#333" stroke-width="1.1"/>
<text x="26.20" y="270.85" font-size="8.4" text-anchor="end" font-weight="bold" fill="#000" >3</text>
<line x1="30.80" y1="244.23" x2="33.10" y2="244.23" stroke="#333" stroke-width="1.1"/>
<text x="26.20" y="247.03" font-size="8.4" text-anchor="end" font-weight="bold" fill="#000" >4</text>
<line x1="30.80" y1="220.42" x2="33.10" y2="220.42" stroke="#333" stroke-width="1.1"/>
<text x="26.20" y="223.22" font-size="8.4" text-anchor="end" font-weight="bold" fill="#000" >5</text>
<line x1="30.80" y1="196.60" x2="33.10" y2="196.60" stroke="#333" stroke-width="1.1"/>
<text x="26.20" y="199.40" font-size="8.4" text-anchor="end" font-weight="bold" fill="#000" >6</text>
<line x1="33.40" y1="339.50" x2="277.45" y2="339.50" stroke="#404040" stroke-width="1.3"/>
<line x1="34.00" y1="339.50" x2="34.00" y2="342.10" stroke="#404040" stroke-width="1.1"/>
<text x="34.40" y="354.00" font-size="8.4" text-anchor="middle" font-weight="bold" fill="#000" >10</text>
<line x1="82.58" y1="339.50" x2="82.58" y2="342.10" stroke="#404040" stroke-width="1.1"/>
<text x="82.98" y="354.00" font-size="8.4" text-anchor="middle" font-weight="bold" fill="#000" >20</text>
<line x1="131.16" y1="339.50" x2="131.16" y2="342.10" stroke="#404040" stroke-width="1.1"/>
<text x="131.56" y="354.00" font-size="8.4" text-anchor="middle" font-weight="bold" fill="#000" >30</text>
<line x1="179.74" y1="339.50" x2="179.74" y2="342.10" stroke="#404040" stroke-width="1.1"/>
<text x="180.14" y="354.00" font-size="8.4" text-anchor="middle" font-weight="bold" fill="#000" >40</text>
<line x1="228.32" y1="339.50" x2="228.32" y2="342.10" stroke="#404040" stroke-width="1.1"/>
<text x="228.72" y="354.00" font-size="8.4" text-anchor="middle" font-weight="bold" fill="#000" >50</text>
<line x1="276.90" y1="339.50" x2="276.90" y2="342.10" stroke="#404040" stroke-width="1.1"/>
<text x="277.30" y="354.00" font-size="8.4" text-anchor="middle" font-weight="bold" fill="#000" >60</text>
<line x1="46.14" y1="243.28" x2="46.14" y2="266.14" stroke="#a8a8a8" stroke-width="1"/>
<line x1="43.84" y1="243.28" x2="48.44" y2="243.28" stroke="#7a7a7a" stroke-width="1"/>
<line x1="43.84" y1="266.14" x2="48.44" y2="266.14" stroke="#7a7a7a" stroke-width="1"/>
<line x1="46.14" y1="260.43" x2="46.14" y2="282.82" stroke="#a8a8a8" stroke-width="1"/>
<line x1="43.84" y1="260.43" x2="48.44" y2="260.43" stroke="#7a7a7a" stroke-width="1"/>
<line x1="43.84" y1="282.82" x2="48.44" y2="282.82" stroke="#7a7a7a" stroke-width="1"/>
<line x1="70.44" y1="239.47" x2="70.44" y2="263.29" stroke="#a8a8a8" stroke-width="1"/>
<line x1="68.14" y1="239.47" x2="72.73" y2="239.47" stroke="#7a7a7a" stroke-width="1"/>
<line x1="68.14" y1="263.29" x2="72.73" y2="263.29" stroke="#7a7a7a" stroke-width="1"/>
<line x1="70.44" y1="266.38" x2="70.44" y2="286.39" stroke="#a8a8a8" stroke-width="1"/>
<line x1="68.14" y1="266.38" x2="72.73" y2="266.38" stroke="#7a7a7a" stroke-width="1"/>
<line x1="68.14" y1="286.39" x2="72.73" y2="286.39" stroke="#7a7a7a" stroke-width="1"/>
<line x1="94.72" y1="240.90" x2="94.72" y2="263.29" stroke="#a8a8a8" stroke-width="1"/>
<line x1="92.42" y1="240.90" x2="97.02" y2="240.90" stroke="#7a7a7a" stroke-width="1"/>
<line x1="92.42" y1="263.29" x2="97.02" y2="263.29" stroke="#7a7a7a" stroke-width="1"/>
<line x1="94.72" y1="268.53" x2="94.72" y2="283.29" stroke="#a8a8a8" stroke-width="1"/>
<line x1="92.42" y1="268.53" x2="97.02" y2="268.53" stroke="#7a7a7a" stroke-width="1"/>
<line x1="92.42" y1="283.29" x2="97.02" y2="283.29" stroke="#7a7a7a" stroke-width="1"/>
<line x1="119.02" y1="242.80" x2="119.02" y2="264.24" stroke="#a8a8a8" stroke-width="1"/>
<line x1="116.72" y1="242.80" x2="121.31" y2="242.80" stroke="#7a7a7a" stroke-width="1"/>
<line x1="116.72" y1="264.24" x2="121.31" y2="264.24" stroke="#7a7a7a" stroke-width="1"/>
<line x1="119.02" y1="275.91" x2="119.02" y2="288.29" stroke="#a8a8a8" stroke-width="1"/>
<line x1="116.72" y1="275.91" x2="121.31" y2="275.91" stroke="#7a7a7a" stroke-width="1"/>
<line x1="116.72" y1="288.29" x2="121.31" y2="288.29" stroke="#7a7a7a" stroke-width="1"/>
<line x1="155.45" y1="240.18" x2="155.45" y2="263.05" stroke="#a8a8a8" stroke-width="1"/>
<line x1="153.15" y1="240.18" x2="157.75" y2="240.18" stroke="#7a7a7a" stroke-width="1"/>
<line x1="153.15" y1="263.05" x2="157.75" y2="263.05" stroke="#7a7a7a" stroke-width="1"/>
<line x1="155.45" y1="280.20" x2="155.45" y2="289.25" stroke="#a8a8a8" stroke-width="1"/>
<line x1="153.15" y1="280.20" x2="157.75" y2="280.20" stroke="#7a7a7a" stroke-width="1"/>
<line x1="153.15" y1="289.25" x2="157.75" y2="289.25" stroke="#7a7a7a" stroke-width="1"/>
<line x1="204.03" y1="250.66" x2="204.03" y2="266.38" stroke="#a8a8a8" stroke-width="1"/>
<line x1="201.73" y1="250.66" x2="206.33" y2="250.66" stroke="#7a7a7a" stroke-width="1"/>
<line x1="201.73" y1="266.38" x2="206.33" y2="266.38" stroke="#7a7a7a" stroke-width="1"/>
<line x1="204.03" y1="286.63" x2="204.03" y2="292.34" stroke="#a8a8a8" stroke-width="1"/>
<line x1="201.73" y1="286.63" x2="206.33" y2="286.63" stroke="#7a7a7a" stroke-width="1"/>
<line x1="201.73" y1="292.34" x2="206.33" y2="292.34" stroke="#7a7a7a" stroke-width="1"/>
<line x1="252.61" y1="253.05" x2="252.61" y2="264.00" stroke="#a8a8a8" stroke-width="1"/>
<line x1="250.31" y1="253.05" x2="254.91" y2="253.05" stroke="#7a7a7a" stroke-width="1"/>
<line x1="250.31" y1="264.00" x2="254.91" y2="264.00" stroke="#7a7a7a" stroke-width="1"/>
<line x1="252.61" y1="293.06" x2="252.61" y2="297.82" stroke="#a8a8a8" stroke-width="1"/>
<line x1="250.31" y1="293.06" x2="254.91" y2="293.06" stroke="#7a7a7a" stroke-width="1"/>
<line x1="250.31" y1="297.82" x2="254.91" y2="297.82" stroke="#7a7a7a" stroke-width="1"/>
<polyline points="46.14,303.30 70.44,311.16 94.72,316.16 119.02,318.78 155.45,321.40 204.03,324.02 252.61,325.69" fill="none" stroke="#ababab" stroke-width="1.8" stroke-linejoin="round"/>
<polyline points="46.14,271.62 70.44,276.39 94.72,275.91 119.02,282.10 155.45,284.72 204.03,289.49 252.61,295.44" fill="none" stroke="#222" stroke-width="1.7" stroke-linejoin="round"/>
<polygon points="43.09,274.23 49.19,274.23 46.14,268.44" fill="#000"/>
<polygon points="67.39,278.99 73.48,278.99 70.44,273.20" fill="#000"/>
<polygon points="91.67,278.52 97.77,278.52 94.72,272.72" fill="#000"/>
<polygon points="115.97,284.71 122.06,284.71 119.02,278.91" fill="#000"/>
<polygon points="152.40,287.33 158.50,287.33 155.45,281.53" fill="#000"/>
<polygon points="200.98,292.09 207.08,292.09 204.03,286.30" fill="#000"/>
<polygon points="249.56,298.05 255.66,298.05 252.61,292.25" fill="#000"/>
<polyline points="46.14,254.71 70.44,251.38 94.72,252.09 119.02,253.52 155.45,251.62 204.03,258.52 252.61,258.52" fill="none" stroke="#222" stroke-width="1.7" stroke-linejoin="round"/>
<circle cx="46.14" cy="254.71" r="2.75" fill="#000"/>
<circle cx="70.44" cy="251.38" r="2.75" fill="#000"/>
<circle cx="94.72" cy="252.09" r="2.75" fill="#000"/>
<circle cx="119.02" cy="253.52" r="2.75" fill="#000"/>
<circle cx="155.45" cy="251.62" r="2.75" fill="#000"/>
<circle cx="204.03" cy="258.52" r="2.75" fill="#000"/>
<circle cx="252.61" cy="258.52" r="2.75" fill="#000"/>
<rect x="43.44" y="300.60" width="5.4" height="5.4" fill="#a4a4a4"/>
<rect x="67.73" y="308.46" width="5.4" height="5.4" fill="#a4a4a4"/>
<rect x="92.02" y="313.46" width="5.4" height="5.4" fill="#a4a4a4"/>
<rect x="116.31" y="316.08" width="5.4" height="5.4" fill="#a4a4a4"/>
<rect x="152.75" y="318.70" width="5.4" height="5.4" fill="#a4a4a4"/>
<rect x="201.33" y="321.32" width="5.4" height="5.4" fill="#a4a4a4"/>
<rect x="249.91" y="322.99" width="5.4" height="5.4" fill="#a4a4a4"/>
<text x="6.30" y="267.30" font-size="8.6" text-anchor="middle" font-weight="bold" fill="#000" transform="rotate(-90 6.30 267.30)">SUV</text>
<text x="155.80" y="367.30" font-size="8.6" text-anchor="middle" font-weight="bold" fill="#000" >Time [min]</text>
<line x1="268.10" y1="262.50" x2="286.80" y2="262.50" stroke="#000" stroke-width="1.6"/>
<circle cx="277.50" cy="262.50" r="2.75" fill="#000"/>
<text x="289.10" y="265.40" font-size="8.5" text-anchor="start" font-weight="bold" fill="#000"  textLength="20.5" lengthAdjust="spacingAndGlyphs">Intact</text>
<line x1="268.10" y1="271.60" x2="286.80" y2="271.60" stroke="#000" stroke-width="1.6"/>
<polygon points="274.40,274.25 280.60,274.25 277.50,268.36" fill="#000"/>
<text x="289.10" y="274.50" font-size="8.5" text-anchor="start" font-weight="bold" fill="#000"  textLength="22.6" lengthAdjust="spacingAndGlyphs">Lesion</text>
<line x1="268.10" y1="281.00" x2="286.80" y2="281.00" stroke="#ababab" stroke-width="1.6"/>
<rect x="275.00" y="278.50" width="5.0" height="5.0" fill="#a4a4a4"/>
<text x="289.10" y="283.90" font-size="8.5" text-anchor="start" font-weight="bold" fill="#000"  textLength="40.3" lengthAdjust="spacingAndGlyphs">Cerebellum</text>
<line x1="46.80" y1="238.20" x2="46.80" y2="235.25" stroke="#111" stroke-width="1.15" stroke-linecap="round"/>
<line x1="46.80" y1="238.20" x2="43.99" y2="237.29" stroke="#111" stroke-width="1.15" stroke-linecap="round"/>
<line x1="46.80" y1="238.20" x2="45.07" y2="240.59" stroke="#111" stroke-width="1.15" stroke-linecap="round"/>
<line x1="46.80" y1="238.20" x2="48.53" y2="240.59" stroke="#111" stroke-width="1.15" stroke-linecap="round"/>
<line x1="46.80" y1="238.20" x2="49.61" y2="237.29" stroke="#111" stroke-width="1.15" stroke-linecap="round"/>
<line x1="70.50" y1="234.70" x2="70.50" y2="231.75" stroke="#111" stroke-width="1.15" stroke-linecap="round"/>
<line x1="70.50" y1="234.70" x2="67.69" y2="233.79" stroke="#111" stroke-width="1.15" stroke-linecap="round"/>
<line x1="70.50" y1="234.70" x2="68.77" y2="237.09" stroke="#111" stroke-width="1.15" stroke-linecap="round"/>
<line x1="70.50" y1="234.70" x2="72.23" y2="237.09" stroke="#111" stroke-width="1.15" stroke-linecap="round"/>
<line x1="70.50" y1="234.70" x2="73.31" y2="233.79" stroke="#111" stroke-width="1.15" stroke-linecap="round"/>
<line x1="94.90" y1="236.70" x2="94.90" y2="233.75" stroke="#111" stroke-width="1.15" stroke-linecap="round"/>
<line x1="94.90" y1="236.70" x2="92.09" y2="235.79" stroke="#111" stroke-width="1.15" stroke-linecap="round"/>
<line x1="94.90" y1="236.70" x2="93.17" y2="239.09" stroke="#111" stroke-width="1.15" stroke-linecap="round"/>
<line x1="94.90" y1="236.70" x2="96.63" y2="239.09" stroke="#111" stroke-width="1.15" stroke-linecap="round"/>
<line x1="94.90" y1="236.70" x2="97.71" y2="235.79" stroke="#111" stroke-width="1.15" stroke-linecap="round"/>
<line x1="119.20" y1="238.50" x2="119.20" y2="235.55" stroke="#111" stroke-width="1.15" stroke-linecap="round"/>
<line x1="119.20" y1="238.50" x2="116.39" y2="237.59" stroke="#111" stroke-width="1.15" stroke-linecap="round"/>
<line x1="119.20" y1="238.50" x2="117.47" y2="240.89" stroke="#111" stroke-width="1.15" stroke-linecap="round"/>
<line x1="119.20" y1="238.50" x2="120.93" y2="240.89" stroke="#111" stroke-width="1.15" stroke-linecap="round"/>
<line x1="119.20" y1="238.50" x2="122.01" y2="237.59" stroke="#111" stroke-width="1.15" stroke-linecap="round"/>
<line x1="155.60" y1="234.70" x2="155.60" y2="231.75" stroke="#111" stroke-width="1.15" stroke-linecap="round"/>
<line x1="155.60" y1="234.70" x2="152.79" y2="233.79" stroke="#111" stroke-width="1.15" stroke-linecap="round"/>
<line x1="155.60" y1="234.70" x2="153.87" y2="237.09" stroke="#111" stroke-width="1.15" stroke-linecap="round"/>
<line x1="155.60" y1="234.70" x2="157.33" y2="237.09" stroke="#111" stroke-width="1.15" stroke-linecap="round"/>
<line x1="155.60" y1="234.70" x2="158.41" y2="233.79" stroke="#111" stroke-width="1.15" stroke-linecap="round"/>
<line x1="201.10" y1="241.40" x2="201.10" y2="238.45" stroke="#111" stroke-width="1.15" stroke-linecap="round"/>
<line x1="201.10" y1="241.40" x2="198.29" y2="240.49" stroke="#111" stroke-width="1.15" stroke-linecap="round"/>
<line x1="201.10" y1="241.40" x2="199.37" y2="243.79" stroke="#111" stroke-width="1.15" stroke-linecap="round"/>
<line x1="201.10" y1="241.40" x2="202.83" y2="243.79" stroke="#111" stroke-width="1.15" stroke-linecap="round"/>
<line x1="201.10" y1="241.40" x2="203.91" y2="240.49" stroke="#111" stroke-width="1.15" stroke-linecap="round"/>
<line x1="207.90" y1="241.40" x2="207.90" y2="238.45" stroke="#111" stroke-width="1.15" stroke-linecap="round"/>
<line x1="207.90" y1="241.40" x2="205.09" y2="240.49" stroke="#111" stroke-width="1.15" stroke-linecap="round"/>
<line x1="207.90" y1="241.40" x2="206.17" y2="243.79" stroke="#111" stroke-width="1.15" stroke-linecap="round"/>
<line x1="207.90" y1="241.40" x2="209.63" y2="243.79" stroke="#111" stroke-width="1.15" stroke-linecap="round"/>
<line x1="207.90" y1="241.40" x2="210.71" y2="240.49" stroke="#111" stroke-width="1.15" stroke-linecap="round"/>
<line x1="245.70" y1="241.40" x2="245.70" y2="238.45" stroke="#111" stroke-width="1.15" stroke-linecap="round"/>
<line x1="245.70" y1="241.40" x2="242.89" y2="240.49" stroke="#111" stroke-width="1.15" stroke-linecap="round"/>
<line x1="245.70" y1="241.40" x2="243.97" y2="243.79" stroke="#111" stroke-width="1.15" stroke-linecap="round"/>
<line x1="245.70" y1="241.40" x2="247.43" y2="243.79" stroke="#111" stroke-width="1.15" stroke-linecap="round"/>
<line x1="245.70" y1="241.40" x2="248.51" y2="240.49" stroke="#111" stroke-width="1.15" stroke-linecap="round"/>
<line x1="252.50" y1="241.40" x2="252.50" y2="238.45" stroke="#111" stroke-width="1.15" stroke-linecap="round"/>
<line x1="252.50" y1="241.40" x2="249.69" y2="240.49" stroke="#111" stroke-width="1.15" stroke-linecap="round"/>
<line x1="252.50" y1="241.40" x2="250.77" y2="243.79" stroke="#111" stroke-width="1.15" stroke-linecap="round"/>
<line x1="252.50" y1="241.40" x2="254.23" y2="243.79" stroke="#111" stroke-width="1.15" stroke-linecap="round"/>
<line x1="252.50" y1="241.40" x2="255.31" y2="240.49" stroke="#111" stroke-width="1.15" stroke-linecap="round"/>
<line x1="259.30" y1="241.40" x2="259.30" y2="238.45" stroke="#111" stroke-width="1.15" stroke-linecap="round"/>
<line x1="259.30" y1="241.40" x2="256.49" y2="240.49" stroke="#111" stroke-width="1.15" stroke-linecap="round"/>
<line x1="259.30" y1="241.40" x2="257.57" y2="243.79" stroke="#111" stroke-width="1.15" stroke-linecap="round"/>
<line x1="259.30" y1="241.40" x2="261.03" y2="243.79" stroke="#111" stroke-width="1.15" stroke-linecap="round"/>
<line x1="259.30" y1="241.40" x2="262.11" y2="240.49" stroke="#111" stroke-width="1.15" stroke-linecap="round"/>
<text x="361.50" y="204.10" font-size="16.5" text-anchor="middle" font-weight="bold" fill="#000" >d</text>
<line x1="393.30" y1="197.30" x2="393.30" y2="349.50" stroke="#3c3c3c" stroke-width="1.5"/>
<line x1="390.50" y1="346.70" x2="393.30" y2="346.70" stroke="#333" stroke-width="1.1"/>
<text x="385.70" y="349.60" font-size="8.4" text-anchor="end" font-weight="bold" fill="#000" >0</text>
<line x1="390.50" y1="321.80" x2="393.30" y2="321.80" stroke="#333" stroke-width="1.1"/>
<text x="385.70" y="324.70" font-size="8.4" text-anchor="end" font-weight="bold" fill="#000" >10</text>
<line x1="390.50" y1="296.90" x2="393.30" y2="296.90" stroke="#333" stroke-width="1.1"/>
<text x="385.70" y="299.80" font-size="8.4" text-anchor="end" font-weight="bold" fill="#000" >20</text>
<line x1="390.50" y1="272.00" x2="393.30" y2="272.00" stroke="#333" stroke-width="1.1"/>
<text x="385.70" y="274.90" font-size="8.4" text-anchor="end" font-weight="bold" fill="#000" >30</text>
<line x1="390.50" y1="247.10" x2="393.30" y2="247.10" stroke="#333" stroke-width="1.1"/>
<text x="385.70" y="250.00" font-size="8.4" text-anchor="end" font-weight="bold" fill="#000" >40</text>
<line x1="390.50" y1="222.20" x2="393.30" y2="222.20" stroke="#333" stroke-width="1.1"/>
<text x="385.70" y="225.10" font-size="8.4" text-anchor="end" font-weight="bold" fill="#000" >50</text>
<line x1="390.50" y1="197.30" x2="393.30" y2="197.30" stroke="#333" stroke-width="1.1"/>
<text x="385.70" y="200.20" font-size="8.4" text-anchor="end" font-weight="bold" fill="#000" >60</text>
<line x1="393.30" y1="346.70" x2="679.00" y2="346.70" stroke="#404040" stroke-width="1.3"/>
<line x1="536.30" y1="346.70" x2="536.30" y2="349.50" stroke="#404040" stroke-width="1.1"/>
<line x1="679.00" y1="346.70" x2="679.00" y2="349.50" stroke="#404040" stroke-width="1.1"/>
<line x1="465.00" y1="292.17" x2="465.00" y2="316.82" stroke="#c4c4c4" stroke-width="1.2"/>
<line x1="462.60" y1="292.17" x2="467.40" y2="292.17" stroke="#b0b0b0" stroke-width="1.2"/>
<line x1="462.60" y1="316.82" x2="467.40" y2="316.82" stroke="#b0b0b0" stroke-width="1.2"/>
<rect x="442.4" y="316.82" width="45.2" height="29.88" fill="#fff" stroke="#595959" stroke-width="1"/>
<line x1="607.40" y1="217.22" x2="607.40" y2="273.74" stroke="#999999" stroke-width="1.0"/>
<line x1="605.20" y1="217.22" x2="609.60" y2="217.22" stroke="#8c8c8c" stroke-width="1.0"/>
<line x1="605.20" y1="273.74" x2="609.60" y2="273.74" stroke="#8c8c8c" stroke-width="1.0"/>
<rect x="585.3" y="273.74" width="45.0" height="72.96" fill="#000"/>
<text x="465.00" y="360.90" font-size="9.0" text-anchor="middle" font-weight="bold" fill="#000"  textLength="19.6" lengthAdjust="spacingAndGlyphs">Sham</text>
<text x="608.40" y="360.90" font-size="9.0" text-anchor="middle" font-weight="bold" fill="#000"  textLength="28.9" lengthAdjust="spacingAndGlyphs">6-OHDA</text>
<text x="536.20" y="374.70" font-size="9.1" text-anchor="middle" font-weight="bold" fill="#000"  textLength="24.2" lengthAdjust="spacingAndGlyphs">Group</text>
<text x="361.90" y="272.70" font-size="8.6" text-anchor="middle" font-weight="bold" fill="#000" transform="rotate(-90 361.90 272.70)">Time [sec]</text>
</g></svg></body></html>
